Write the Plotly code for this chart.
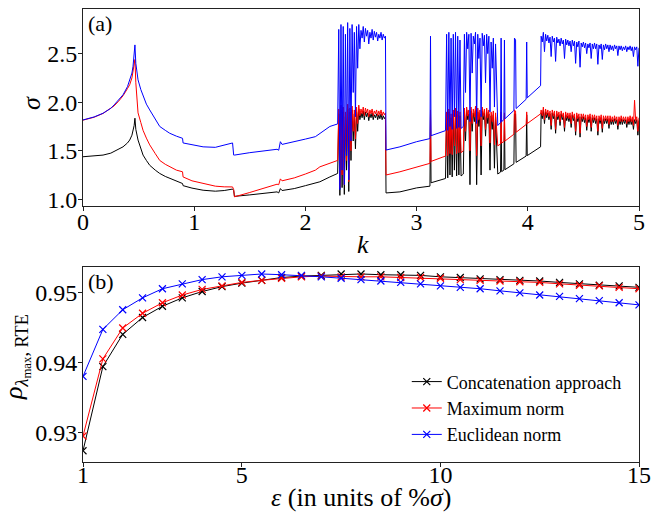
import plotly.graph_objects as go

# ---------------- panel (a): sigma vs k ----------------
K_TOP = [
    0.00, 0.10, 0.18, 0.25, 0.28, 0.32, 0.36, 0.40, 0.42, 0.44,
    0.45, 0.46, 0.467, 0.475, 0.495, 0.52, 0.54, 0.57, 0.60, 0.65,
    0.69, 0.74, 0.78, 0.84, 0.895, 0.90, 0.98, 1.08, 1.19, 1.27,
    1.345, 1.355, 1.362, 1.50, 1.62, 1.745, 1.76, 1.775, 1.79, 1.90,
    2.00, 2.09, 2.13, 2.22, 2.29,
    2.30, 2.31, 2.32, 2.33, 2.34, 2.35, 2.36, 2.37, 2.38, 2.39,
    2.40, 2.41, 2.42, 2.43, 2.44, 2.45, 2.46, 2.47, 2.48, 2.49,
    2.50, 2.51, 2.52, 2.53, 2.54, 2.55, 2.56, 2.57, 2.58, 2.59,
    2.60, 2.61, 2.62, 2.63, 2.64, 2.65, 2.66, 2.67, 2.68, 2.69,
    2.70, 2.71, 2.72, 2.725,
    2.85, 3.00, 3.12, 3.125, 3.13, 3.26,
    3.27, 3.28, 3.29, 3.30, 3.31, 3.32, 3.33, 3.34, 3.35, 3.36,
    3.37, 3.38, 3.39, 3.40, 3.41, 3.42, 3.43, 3.44, 3.45, 3.46,
    3.47, 3.48, 3.49, 3.50, 3.51, 3.52, 3.53, 3.54, 3.55, 3.56,
    3.57, 3.58, 3.59, 3.60, 3.61, 3.62, 3.63, 3.64, 3.65, 3.66,
    3.67, 3.68, 3.69, 3.70, 3.71, 3.72, 3.73,
    3.755, 3.76, 3.765, 3.785, 3.79, 3.795, 3.875, 3.88, 3.89, 3.895,
    3.985, 3.99, 3.995, 4.115,
    4.12, 4.13, 4.14, 4.15, 4.16, 4.17, 4.18, 4.19, 4.20, 4.21,
    4.22, 4.23, 4.24, 4.25, 4.26, 4.27, 4.28, 4.29, 4.30, 4.31,
    4.32, 4.33, 4.34, 4.35, 4.36, 4.37, 4.38, 4.39, 4.40, 4.41,
    4.42, 4.43, 4.44, 4.45, 4.46, 4.47, 4.48, 4.49, 4.50, 4.51,
    4.52, 4.53, 4.54, 4.55, 4.56, 4.57, 4.58, 4.59, 4.60, 4.61,
    4.62, 4.63, 4.64, 4.65, 4.66, 4.67, 4.68, 4.69, 4.70, 4.71,
    4.72, 4.73, 4.74, 4.75, 4.76, 4.77, 4.78, 4.79, 4.80, 4.81,
    4.82, 4.83, 4.84, 4.85, 4.86, 4.87, 4.88, 4.89, 4.90, 4.91,
    4.92, 4.93, 4.94, 4.95, 4.96, 4.97, 4.98, 4.99, 5.00,
]

SIG_CONCAT = [
    1.438, 1.445, 1.455, 1.475, 1.495, 1.52, 1.54, 1.58, 1.61, 1.66,
    1.70, 1.76, 1.835, 1.72, 1.61, 1.52, 1.455, 1.40, 1.35, 1.30,
    1.266, 1.235, 1.214, 1.19, 1.162, 1.14, 1.115, 1.093, 1.083, 1.09,
    1.105, 1.09, 1.03, 1.045, 1.06, 1.076, 1.065, 1.11, 1.09, 1.11,
    1.14, 1.17, 1.18, 1.23, 1.266,
    1.88, 1.04, 1.92, 1.12, 1.90, 1.05, 1.85, 1.30, 1.93, 1.08,
    1.90, 1.40, 1.92, 1.60, 1.88, 1.52, 1.90, 1.70, 1.93, 1.82,
    1.89, 1.84, 1.91, 1.82, 1.90, 1.85, 1.89, 1.81, 1.88, 1.84,
    1.89, 1.82, 1.87, 1.84, 1.88, 1.82, 1.87, 1.83, 1.88, 1.82,
    1.86, 1.83, 1.85, 1.065,
    1.076, 1.117, 1.135, 1.88, 1.17, 1.214,
    1.86, 1.22, 1.90, 1.25, 1.84, 1.23, 1.88, 1.30, 1.90, 1.24,
    1.87, 1.25, 1.86, 1.24, 1.25, 1.26, 1.90, 1.60, 1.92, 1.82,
    1.88, 1.15, 1.91, 1.70, 1.89, 1.80, 1.92, 1.15, 1.90, 1.75,
    1.88, 1.25, 1.91, 1.82, 1.89, 1.65, 1.90, 1.78, 1.88, 1.30,
    1.86, 1.72, 1.87, 1.32, 1.85, 1.50, 1.26,
    1.28, 1.87, 1.285, 1.30, 1.86, 1.305, 1.365, 1.88, 1.88, 1.38,
    1.445, 1.87, 1.45, 1.54,
    1.89, 1.83, 1.92, 1.78, 1.90, 1.84, 1.89, 1.82, 1.88, 1.72,
    1.89, 1.83, 1.88, 1.68, 1.88, 1.82, 1.87, 1.76, 1.88, 1.82,
    1.86, 1.70, 1.87, 1.81, 1.86, 1.80, 1.86, 1.74, 1.87, 1.81,
    1.85, 1.66, 1.86, 1.80, 1.85, 1.64, 1.85, 1.80, 1.85, 1.79,
    1.84, 1.71, 1.84, 1.79, 1.85, 1.70, 1.84, 1.79, 1.84, 1.78,
    1.83, 1.66, 1.83, 1.78, 1.84, 1.69, 1.83, 1.78, 1.83, 1.78,
    1.83, 1.73, 1.83, 1.77, 1.82, 1.77, 1.83, 1.78, 1.82, 1.72,
    1.82, 1.77, 1.83, 1.77, 1.82, 1.78, 1.82, 1.74, 1.82, 1.77,
    1.83, 1.77, 1.82, 1.72, 1.82, 1.78, 1.82, 1.66, 1.81,
]

SIG_MAXNORM = [
    1.815, 1.845, 1.884, 1.935, 1.962, 2.01, 2.066, 2.14, 2.18, 2.25,
    2.32, 2.39, 2.44, 2.20, 1.89, 1.79, 1.71, 1.63, 1.56, 1.47,
    1.40, 1.36, 1.334, 1.30, 1.283, 1.23, 1.19, 1.162, 1.135, 1.128,
    1.127, 1.10, 1.025, 1.07, 1.11, 1.155, 1.15, 1.21, 1.19, 1.22,
    1.26, 1.30, 1.334, 1.37, 1.40,
    1.93, 1.12, 1.97, 1.25, 1.95, 1.15, 1.90, 1.40, 1.98, 1.18,
    1.94, 1.50, 1.96, 1.70, 1.92, 1.62, 1.95, 1.78, 1.97, 1.86,
    1.93, 1.88, 1.95, 1.86, 1.94, 1.89, 1.93, 1.85, 1.92, 1.88,
    1.93, 1.86, 1.91, 1.88, 1.92, 1.86, 1.91, 1.87, 1.92, 1.86,
    1.90, 1.87, 1.89, 1.25,
    1.283, 1.334, 1.37, 1.92, 1.39, 1.445,
    1.90, 1.45, 1.93, 1.47, 1.88, 1.46, 1.92, 1.55, 1.94, 1.47,
    1.91, 1.48, 1.90, 1.48, 1.49, 1.50, 1.94, 1.70, 1.95, 1.86,
    1.92, 1.50, 1.95, 1.78, 1.93, 1.85, 1.96, 1.45, 1.94, 1.82,
    1.92, 1.55, 1.95, 1.86, 1.93, 1.72, 1.94, 1.84, 1.92, 1.58,
    1.90, 1.80, 1.91, 1.56, 1.89, 1.65, 1.55,
    1.57, 1.90, 1.58, 1.595, 1.89, 1.60, 1.67, 1.92, 1.91, 1.69,
    1.77, 1.90, 1.78, 1.88,
    1.92, 1.86, 1.95, 1.82, 1.93, 1.87, 1.92, 1.85, 1.91, 1.76,
    1.92, 1.86, 1.91, 1.72, 1.91, 1.85, 1.90, 1.80, 1.91, 1.85,
    1.89, 1.74, 1.90, 1.84, 1.89, 1.83, 1.89, 1.78, 1.90, 1.84,
    1.88, 1.70, 1.89, 1.83, 1.88, 1.68, 1.88, 1.83, 1.88, 1.82,
    1.87, 1.75, 1.87, 1.82, 1.88, 1.74, 1.87, 1.82, 1.87, 1.81,
    1.86, 1.70, 1.86, 1.81, 1.87, 1.73, 1.86, 1.81, 1.86, 1.81,
    1.86, 1.77, 1.86, 1.80, 1.85, 1.80, 1.86, 1.81, 1.85, 1.76,
    1.85, 1.80, 1.86, 1.80, 1.85, 1.81, 1.85, 1.78, 1.85, 1.80,
    1.86, 1.80, 1.85, 1.76, 2.02, 1.81, 1.85, 1.70, 1.84,
]

SIG_EUCLID = [
    1.817, 1.848, 1.886, 1.937, 1.972, 2.02, 2.076, 2.16, 2.23, 2.30,
    2.37, 2.48, 2.59, 2.40, 2.23, 2.13, 2.06, 1.98, 1.92, 1.82,
    1.75, 1.71, 1.68, 1.65, 1.628, 1.58, 1.56, 1.54, 1.535, 1.555,
    1.58, 1.455, 1.455, 1.48, 1.50, 1.515, 1.505, 1.593, 1.565, 1.59,
    1.62, 1.645, 1.68, 1.75, 1.776,
    2.75, 1.10, 2.80, 1.30, 2.78, 1.15, 2.70, 1.45, 2.82, 1.20,
    2.76, 1.60, 2.80, 2.10, 2.72, 1.85, 2.78, 2.35, 2.80, 2.55,
    2.74, 2.66, 2.78, 2.62, 2.76, 2.68, 2.74, 2.60, 2.72, 2.66,
    2.75, 2.64, 2.73, 2.67, 2.72, 2.63, 2.70, 2.66, 2.72, 2.64,
    2.70, 2.66, 2.68, 1.507,
    1.54, 1.593, 1.625, 2.68, 1.655, 1.707,
    2.70, 1.71, 2.72, 1.75, 2.66, 1.72, 2.70, 1.85, 2.72, 1.73,
    2.68, 1.74, 2.64, 1.73, 1.74, 1.75, 2.70, 2.10, 2.72, 2.55,
    2.70, 1.80, 2.71, 2.30, 2.68, 2.60, 2.72, 1.78, 2.70, 2.45,
    2.66, 1.85, 2.71, 2.58, 2.69, 2.20, 2.70, 2.50, 2.68, 1.90,
    2.62, 2.35, 2.66, 1.95, 2.60, 2.00, 1.76,
    1.79, 2.66, 1.80, 1.82, 2.64, 1.83, 1.915, 2.66, 2.64, 1.935,
    2.03, 2.62, 2.045, 2.17,
    2.68, 2.62, 2.72, 2.52, 2.70, 2.63, 2.69, 2.61, 2.67, 2.47,
    2.68, 2.62, 2.66, 2.42, 2.67, 2.61, 2.65, 2.58, 2.66, 2.60,
    2.64, 2.45, 2.65, 2.59, 2.64, 2.58, 2.63, 2.52, 2.64, 2.58,
    2.63, 2.40, 2.62, 2.57, 2.63, 2.36, 2.61, 2.57, 2.62, 2.56,
    2.61, 2.50, 2.60, 2.56, 2.61, 2.45, 2.60, 2.55, 2.61, 2.55,
    2.60, 2.39, 2.59, 2.55, 2.60, 2.44, 2.59, 2.54, 2.60, 2.55,
    2.59, 2.52, 2.59, 2.54, 2.58, 2.53, 2.59, 2.55, 2.58, 2.48,
    2.58, 2.54, 2.58, 2.53, 2.57, 2.54, 2.58, 2.52, 2.57, 2.54,
    2.58, 2.53, 2.57, 2.47, 2.57, 2.54, 2.57, 2.37, 2.56,
]

# ---------------- panel (b): rho vs epsilon ----------------
EPS = [1, 1.5, 2, 2.5, 3, 3.5, 4, 4.5, 5, 5.5, 6, 6.5, 7, 7.5, 8, 8.5,
       9, 9.5, 10, 10.5, 11, 11.5, 12, 12.5, 13, 13.5, 14, 14.5, 15]
RHO_CONCAT = [0.9274, 0.9394, 0.9440, 0.9464, 0.9480, 0.9492, 0.9501, 0.9508,
              0.9513, 0.9517, 0.9521, 0.9523, 0.9524, 0.9526, 0.9526, 0.9525,
              0.9525, 0.9524, 0.9522, 0.9521, 0.9519, 0.9518, 0.9517, 0.9516,
              0.9514, 0.9512, 0.9510, 0.9509, 0.9507]
RHO_MAXNORM = [0.9295, 0.9405, 0.9449, 0.9470, 0.9485, 0.9496, 0.9504, 0.9509,
               0.9514, 0.9517, 0.9520, 0.9522, 0.9523, 0.9522, 0.9522, 0.9522,
               0.9521, 0.9521, 0.9520, 0.9518, 0.9517, 0.9516, 0.9515, 0.9514,
               0.9512, 0.9510, 0.9509, 0.9507, 0.9505]
RHO_EUCLID = [0.9380, 0.9447, 0.9475, 0.9492, 0.9505, 0.9512, 0.9518, 0.9522,
              0.9524, 0.9526, 0.9525, 0.9524, 0.9522, 0.9520, 0.9518, 0.9516,
              0.9514, 0.9512, 0.9509, 0.9507, 0.9505, 0.9502, 0.9499, 0.9496,
              0.9494, 0.9491, 0.9488, 0.9485, 0.9482]

SERIES_NAMES = ["Concatenation approach", "Maximum norm", "Euclidean norm"]
COLORS = ["#000000", "#ff0000", "#0000ff"]

FONT = "Liberation Serif"

fig = go.Figure()

for sig, col, name in zip([SIG_CONCAT, SIG_MAXNORM, SIG_EUCLID], COLORS, SERIES_NAMES):
    fig.add_trace(go.Scatter(x=K_TOP, y=sig, mode="lines", name=name,
                             line=dict(color=col, width=1), showlegend=False,
                             xaxis="x", yaxis="y"))

for rho, col, name in zip([RHO_CONCAT, RHO_MAXNORM, RHO_EUCLID], COLORS, SERIES_NAMES):
    fig.add_trace(go.Scatter(x=EPS, y=rho, mode="lines+markers", name=name,
                             line=dict(color=col, width=1),
                             marker=dict(symbol="x-thin", size=7,
                                         line=dict(color=col, width=1.2)),
                             xaxis="x2", yaxis="y2"))

axis_common = dict(showline=True, mirror=True, linecolor="#222", linewidth=1,
                   ticks="outside", ticklen=4, tickwidth=1, tickcolor="#222",
                   showgrid=False, zeroline=False, automargin=False,
                   tickfont=dict(family=FONT, size=24, color="black"))
yaxis_extra = dict(ticklabelstandoff=-4)

title_font = dict(family=FONT, size=26, color="black")

fig.update_layout(
    width=652, height=521,
    margin=dict(l=83, r=13, t=9, b=59),
    paper_bgcolor="white", plot_bgcolor="white",
    font=dict(family=FONT, color="black"),
    xaxis=dict(domain=[0, 1], anchor="y", range=[0, 5],
               tickvals=[0, 1, 2, 3, 4, 5], ticklabelstandoff=-10, **axis_common),
    yaxis=dict(domain=[0.565, 1], anchor="x", range=[0.93, 2.96],
               tickvals=[1.0, 1.5, 2.0, 2.5], ticktext=["1.0", "1.5", "2.0", "2.5"],
               **axis_common, **yaxis_extra),
    xaxis2=dict(domain=[0, 1], anchor="y2", range=[1, 15],
                tickvals=[1, 5, 10, 15], ticklabelstandoff=-13, **axis_common),
    yaxis2=dict(domain=[0, 0.4305], anchor="x2", range=[0.9258, 0.9536],
                tickvals=[0.93, 0.94, 0.95], **axis_common, **yaxis_extra),
    legend=dict(x=0.978, xanchor="right", y=0.019, yanchor="bottom",
                bgcolor="rgba(0,0,0,0)", font=dict(family=FONT, size=18),
                tracegroupgap=0),
    annotations=[
        dict(text="(a)", xref="x domain", yref="y domain", x=0.005, y=1.0,
             xanchor="left", yanchor="top", showarrow=False,
             font=dict(family=FONT, size=22)),
        dict(text="(b)", xref="x2 domain", yref="y2 domain", x=0.005, y=1.0,
             xanchor="left", yanchor="top", showarrow=False,
             font=dict(family=FONT, size=22)),
        dict(text="<i>σ</i>", xref="paper", yref="paper", x=-0.0917, y=0.7925,
             textangle=-90, xanchor="center", yanchor="middle", showarrow=False,
             font=title_font),
        dict(text="<i>k</i>", xref="paper", yref="paper", x=0.5036, y=0.481,
             xanchor="center", yanchor="middle", showarrow=False, font=title_font),
        dict(text="<i>ρ</i><sub><i>λ</i><sub>max</sub>, RTE</sub>", xref="paper", yref="paper",
             x=-0.1187, y=0.232, textangle=-90, xanchor="center", yanchor="middle",
             showarrow=False, font=title_font),
        dict(text="<i>ε</i> (in units of %<i>σ</i>)", xref="paper", yref="paper",
             x=0.5, y=-0.079, xanchor="center", yanchor="middle", showarrow=False,
             font=title_font),
    ],
)

fig.write_html(
    "out.html",
    config={"displayModeBar": False},
    post_script=("document.documentElement.style.margin='0';"
                 "document.body.style.margin='0';"),
)
